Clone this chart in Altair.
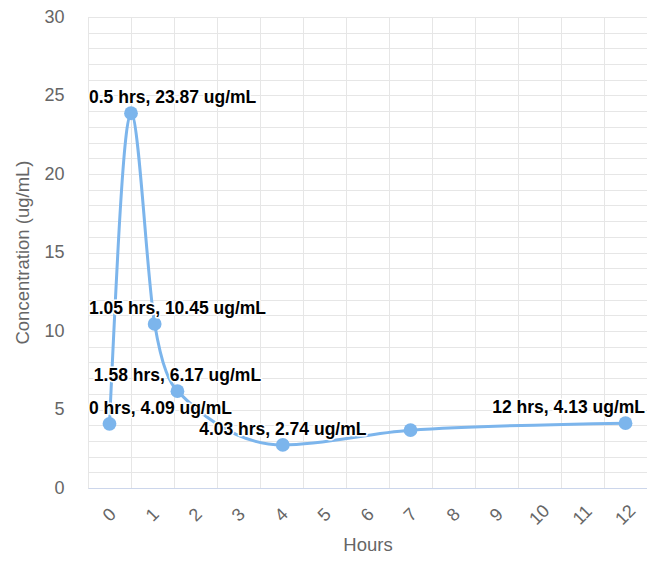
import altair as alt
import pandas as pd

# ---- data ----
hours = [0, 0.5, 1.05, 1.58, 4.03, 7, 12]
conc = [4.09, 23.87, 10.45, 6.17, 2.74, 3.68, 4.13]
label_shown = [True, True, True, True, True, False, True]
label_anchor = ["left", "left", "left", "center", "center", "center", "right"]

x_ticks = list(range(0, 13))
x_grid = [i - 0.5 for i in range(0, 14)]
y_grid = list(range(0, 31))
x_domain = [-0.5, 12.5]
y_domain = [0, 30]

df = pd.DataFrame({"hours": hours, "conc": conc, "shown": label_shown, "anchor": label_anchor})
df["label"] = [f"{h:g} hrs, {c:g} ug/mL" for h, c in zip(hours, conc)]
df["label_x"] = [x_domain[0] if a == "left" else (x_domain[1] if a == "right" else h)
                 for a, h in zip(label_anchor, hours)]

FONT = "Liberation Sans"
BLUE = "#7cb5ec"
GRID = "#e6e6e6"
TXT = "#666666"

x_scale = alt.Scale(domain=x_domain, nice=False, zero=False)
y_scale = alt.Scale(domain=y_domain, nice=False, zero=False)

y_axis = alt.Axis(
    values=y_grid,
    labelExpr="datum.value % 5 == 0 ? datum.label : ''",
    grid=True, gridColor=GRID, gridWidth=1,
    domain=False, ticks=False,
    labelFontSize=18, labelColor=TXT, labelPadding=24, labelFont=FONT,
    labelFlush=False, labelOverlap=False,
    title="Concentration (ug/mL)", titleFontSize=18.5, titleColor=TXT,
    titleFont=FONT, titleFontWeight="normal",
    titleX=-66, titleY=235, titleAngle=270, titleAlign="center", titleBaseline="middle",
)

x_grid_axis = alt.Axis(
    values=x_grid, grid=True, gridColor=GRID, gridWidth=1,
    labels=False, ticks=False, domain=False, title=None, orient="bottom",
)

x_label_axis = alt.Axis(
    values=x_ticks, grid=False, ticks=False,
    domain=True, domainColor="#ccd6eb", domainWidth=1,
    labelAngle=-45, labelAlign="center", labelBaseline="middle", labelPadding=27,
    labelFontSize=18, labelColor=TXT, labelFont=FONT,
    labelFlush=False, labelOverlap=False,
    title="Hours", titleFontSize=18.5, titleColor=TXT, titleFont=FONT,
    titleFontWeight="normal", titleY=56, titleBaseline="middle",
    orient="bottom",
)

Y = alt.Y("conc:Q", scale=y_scale, axis=y_axis)

base = alt.Chart(df)

line = base.mark_line(interpolate="monotone", color=BLUE, strokeWidth=3).encode(
    x=alt.X("hours:Q", scale=x_scale, axis=x_grid_axis),
    y=Y,
)

points = base.mark_circle(size=190, color=BLUE, opacity=1).encode(
    x=alt.X("hours:Q", scale=x_scale, axis=x_label_axis),
    y=Y,
)

text_layers = []
offsets = {"left": 1, "center": 0, "right": -2}
for halo in (True, False):
    for anchor in ("left", "center", "right"):
        kw = dict(align=anchor, baseline="alphabetic", dy=-10, dx=offsets[anchor],
                  font=FONT, fontSize=17.5, fontWeight="bold")
        if halo:
            kw.update(fill="white", stroke="white", strokeWidth=3, strokeJoin="round")
        else:
            kw.update(fill="#000000")
        layer = base.transform_filter(
            (alt.datum.shown == True) & (alt.datum.anchor == anchor)
        ).mark_text(**kw).encode(
            x=alt.X("label_x:Q", scale=x_scale, axis=None),
            y=Y,
            text="label:N",
        )
        text_layers.append(layer)

chart = alt.layer(line, points, *text_layers).resolve_axis(
    x="independent"
).properties(
    width=559,
    height=471,
    autosize=alt.AutoSizeParams(type="none"),
    padding={"left": 80, "top": 9, "right": 0, "bottom": 67},
).configure_view(stroke=None).configure(font=FONT)

chart.save("out.html", embed_options={"renderer": "svg", "actions": False})
